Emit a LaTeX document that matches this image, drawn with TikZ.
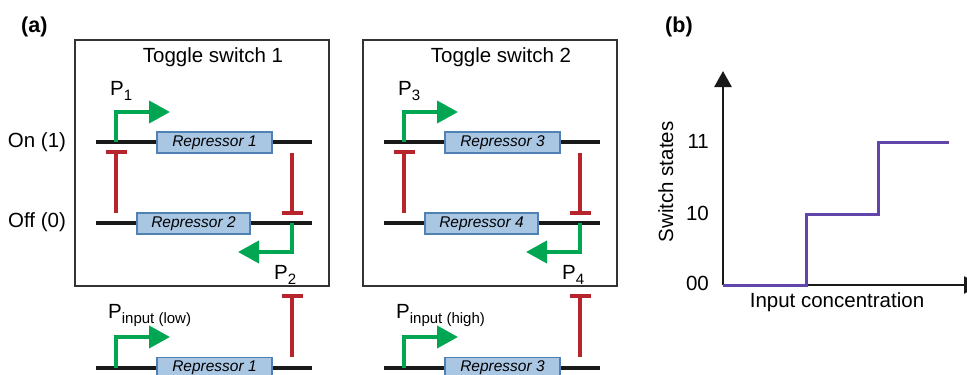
\documentclass[tikz,border=0pt]{standalone}
\usepackage{fontspec}
\setmainfont{Liberation Sans}
\usetikzlibrary{arrows.meta}
\definecolor{promgreen}{HTML}{00A651}
\definecolor{represred}{HTML}{B5252B}
\definecolor{boxfill}{HTML}{A9C6E3}
\definecolor{boxedge}{HTML}{4F81B4}
\definecolor{stepviolet}{HTML}{6245AA}
\newcommand\bigfont{\fontsize{20.5}{23}\selectfont}
\newcommand\subfont{\fontsize{15}{15}\selectfont}
\newcommand\psub[1]{P\raisebox{-5pt}{\subfont #1}}
\begin{document}
\begin{tikzpicture}[x=1pt,y=-1pt,
  lbl/.style={font=\bigfont, inner sep=0pt},
  frame/.style={draw=black!80, line width=1.2pt},
  gene/.style={line width=4pt, black!90},
  repbox/.style={draw=boxedge, fill=boxfill, line width=1.2pt, minimum height=21pt,
     inner sep=0pt, font=\fontsize{15.5}{15.5}\selectfont\itshape},
  prom/.style={draw=promgreen, line width=4pt, -{Triangle[length=21pt,width=22pt]}},
  inhib/.style={draw=represred, line width=3.8pt, -{Bar[width=21pt]}},
  axis/.style={draw=black!90, line width=2.7pt, -{Triangle[length=16pt,width=17pt]}},
  stepline/.style={draw=stepviolet, line width=3pt}]
\useasboundingbox (0,0) rectangle (967,375);

\node[lbl, font=\fontsize{21.5}{23}\selectfont\bfseries, anchor=base west] (la) at (21,32) {(a)};
\node[lbl, font=\fontsize{21.5}{23}\selectfont\bfseries, anchor=base west] (lb) at (665,32) {(b)};
\node[lbl, anchor=base] (on) at (37,147) {On (1)};
\node[lbl, anchor=base] (off) at (37,227) {Off (0)};

\foreach \dx/\t/\a/\b/\inp in {0/1/1/2/low, 288/2/3/4/high}{
  \begin{scope}[xshift=\dx pt]
  % frame and title
  \draw[frame] (75,40) rectangle (329,286);
  \node[lbl, anchor=base] (title\t) at (213,62) {Toggle switch \t};
  % top gene
  \coordinate (tl\t) at (96,142);
  \coordinate (tr\t) at (312,142);
  \draw[gene] (tl\t) -- (tr\t);
  \node[repbox, minimum width=115pt] (rep\a) at (214.5,142.5) {Repressor \a};
  \coordinate (pa\t) at (116,142);
  \coordinate (pat\t) at (170,112);
  \draw[prom] (pa\t) |- (pat\t);
  \node[lbl, anchor=base west] (plab\a) at (110,95) {\psub{\a}};
  % bottom gene
  \coordinate (bl\t) at (96,223);
  \coordinate (br\t) at (312,223);
  \draw[gene] (bl\t) -- (br\t);
  \node[repbox, minimum width=113pt] (rep\b) at (193.5,223.5) {Repressor \b};
  \coordinate (pb\t) at (292,223);
  \coordinate (pbt\t) at (238,252);
  \draw[prom] (pb\t) |- (pbt\t);
  \node[lbl, anchor=base west] (plab\b) at (274,279) {\psub{\b}};
  % inhibitions
  \coordinate (il\t) at (116,213);
  \coordinate (ilt\t) at (116,150);
  \draw[inhib] (il\t) -- (ilt\t);
  \coordinate (ir\t) at (292,153);
  \coordinate (irt\t) at (292,215);
  \draw[inhib] (ir\t) -- (irt\t);
  % input stage
  \coordinate (il2\t) at (96,368);
  \coordinate (ir2\t) at (312,368);
  \draw[gene] (il2\t) -- (ir2\t);
  \node[repbox, minimum width=115pt] (inrep\t) at (214.5,368) {Repressor \a};
  \coordinate (pin\t) at (116,368);
  \coordinate (pint\t) at (170,337);
  \draw[prom] (pin\t) |- (pint\t);
  \node[lbl, anchor=base west] (pinlab\t) at (108,318) {P\raisebox{-5pt}{\subfont input (\inp)}};
  \coordinate (iu\t) at (292,357);
  \coordinate (iut\t) at (292,294);
  \draw[inhib] (iu\t) -- (iut\t);
  \end{scope}
}

% panel b
\coordinate (orig) at (723,285);
\coordinate (ytip) at (723,71);
\coordinate (xtip) at (980,285);
\draw[axis] (orig) -- (ytip);
\draw[axis] (orig) -- (xtip);
\coordinate (s1) at (806,285);
\coordinate (s2) at (806,214);
\coordinate (s3) at (878,214);
\coordinate (s4) at (878,142);
\coordinate (s5) at (949,142);
\draw[stepline] (orig) -- (s1) -- (s2) -- (s3) -- (s4) -- (s5);
\node[lbl, anchor=base east] (t11) at (709,148) {11};
\node[lbl, anchor=base east] (t10) at (709,220) {10};
\node[lbl, anchor=base east] (t00) at (709,290) {00};
\node[lbl, anchor=base, rotate=90] (ylab) at (673,182) {Switch states};
\node[lbl, anchor=base] (xlab) at (837,307) {Input concentration};
\end{tikzpicture}
\end{document}
